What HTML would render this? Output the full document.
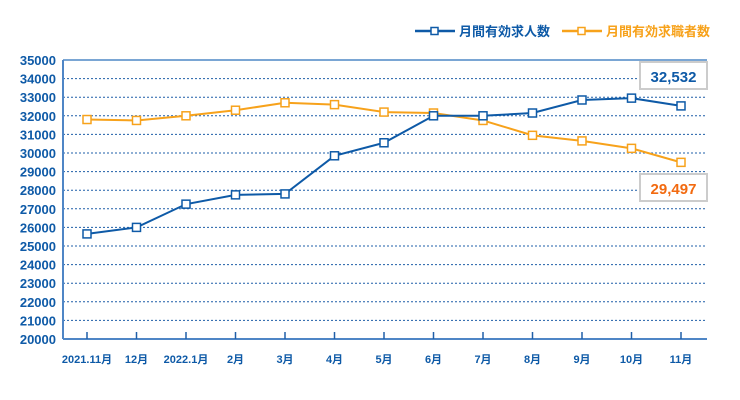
<!DOCTYPE html>
<html><head><meta charset="utf-8"><style>
body{margin:0;background:#fff;}
svg{display:block;font-family:"Liberation Sans","Noto Sans CJK JP",sans-serif;}
</style></head><body>
<svg id="chart" width="740" height="400" viewBox="0 0 740 400" xmlns="http://www.w3.org/2000/svg">
<g id="grid"></g>
<g id="axes"></g>
<g id="series"></g>
<g>
 <g>
  <line x1="415" y1="31" x2="455" y2="31" stroke="#0e5aa7" stroke-width="2.5"/>
  <rect x="431" y="27.5" width="7" height="7" fill="#fff" stroke="#0e5aa7" stroke-width="1.5"/>
  <text x="459" y="36" font-size="13" font-weight="bold" fill="#0e5aa7">月間有効求人数</text>
 </g>
 <g>
  <line x1="562" y1="31" x2="602" y2="31" stroke="#f7a21b" stroke-width="2.5"/>
  <rect x="578" y="27.5" width="7" height="7" fill="#fff" stroke="#f7a21b" stroke-width="1.5"/>
  <text x="606" y="36" font-size="13" font-weight="bold" fill="#f7a21b">月間有効求職者数</text>
 </g>
</g>
<g>
 <rect x="640" y="62" width="67" height="27" fill="#fff" stroke="#ccc" stroke-width="2"/>
 <text x="673.5" y="82" font-size="15" font-weight="bold" fill="#0e5aa7" text-anchor="middle">32,532</text>
</g>
<g>
 <rect x="640" y="174" width="67" height="27" fill="#fff" stroke="#ccc" stroke-width="2"/>
 <text x="673.5" y="194" font-size="15" font-weight="bold" fill="#f26a10" text-anchor="middle">29,497</text>
</g>
</svg>
<script>
const categories=["2021.11月","12月","2022.1月","2月","3月","4月","5月","6月","7月","8月","9月","10月","11月"];
const openings=[25650,26000,27250,27750,27800,29850,30550,32000,32000,32150,32850,32950,32532];
const seekers=[31800,31750,32000,32300,32700,32600,32200,32150,31750,30950,30650,30250,29497];
const yTicks=[20000,21000,22000,23000,24000,25000,26000,27000,28000,29000,30000,31000,32000,33000,34000,35000];
const NS="http://www.w3.org/2000/svg";
const L=63,R=707,T=60,B=339,x0=87,dx=49.5;
const y=v=>B-(v-20000)/15000*(B-T);
const x=i=>x0+i*dx;
function mk(tag,attrs,parent){const e=document.createElementNS(NS,tag);for(const k in attrs)e.setAttribute(k,attrs[k]);parent.appendChild(e);return e;}
const grid=document.getElementById('grid'),axes=document.getElementById('axes'),series=document.getElementById('series');
yTicks.forEach(v=>{
 if(v>20000&&v<35000){const l=mk('line',{x1:L,x2:R,y1:y(v),y2:y(v),stroke:'#1f5fa8','stroke-width':1,'stroke-dasharray':'2,2'},grid);
 
 }
 const t=mk('text',{x:56,y:y(v)+5,'font-size':13,'font-weight':'bold',fill:'#0e5aa7','text-anchor':'end'},axes);
 t.textContent=v;
 
 
});
const topLine=mk('line',{x1:L,x2:R,y1:T,y2:T,stroke:'#7aa6d4','stroke-width':2},axes);


const botLine=mk('line',{x1:L,x2:R,y1:B,y2:B,stroke:'#4f86c6','stroke-width':2},axes);


const leftLine=mk('line',{x1:L,x2:L,y1:T,y2:B,stroke:'#4f86c6','stroke-width':2},axes);


categories.forEach((c,i)=>{
 const tk=mk('line',{x1:x(i),x2:x(i),y1:B-7,y2:B,stroke:'#1f5fa8','stroke-width':1.5},axes);
 
 
 const t=mk('text',{x:x(i),y:B+24,'font-size':11,'font-weight':'bold',fill:'#0e5aa7','text-anchor':'middle'},axes);
 t.textContent=c;
 
 
});
function draw(data,color,name){
 const p=mk('polyline',{points:data.map((v,i)=>x(i)+','+y(v)).join(' '),fill:'none',stroke:color,'stroke-width':2},series);
 
 
 data.forEach((v,i)=>{
  const r=mk('rect',{x:x(i)-4,y:y(v)-4,width:8,height:8,fill:'#fff',stroke:color,'stroke-width':1.5},series);
  
  
 });
}
draw(seekers,'#f7a21b','seekers');
draw(openings,'#0e5aa7','openings');
</script>
</body></html>
